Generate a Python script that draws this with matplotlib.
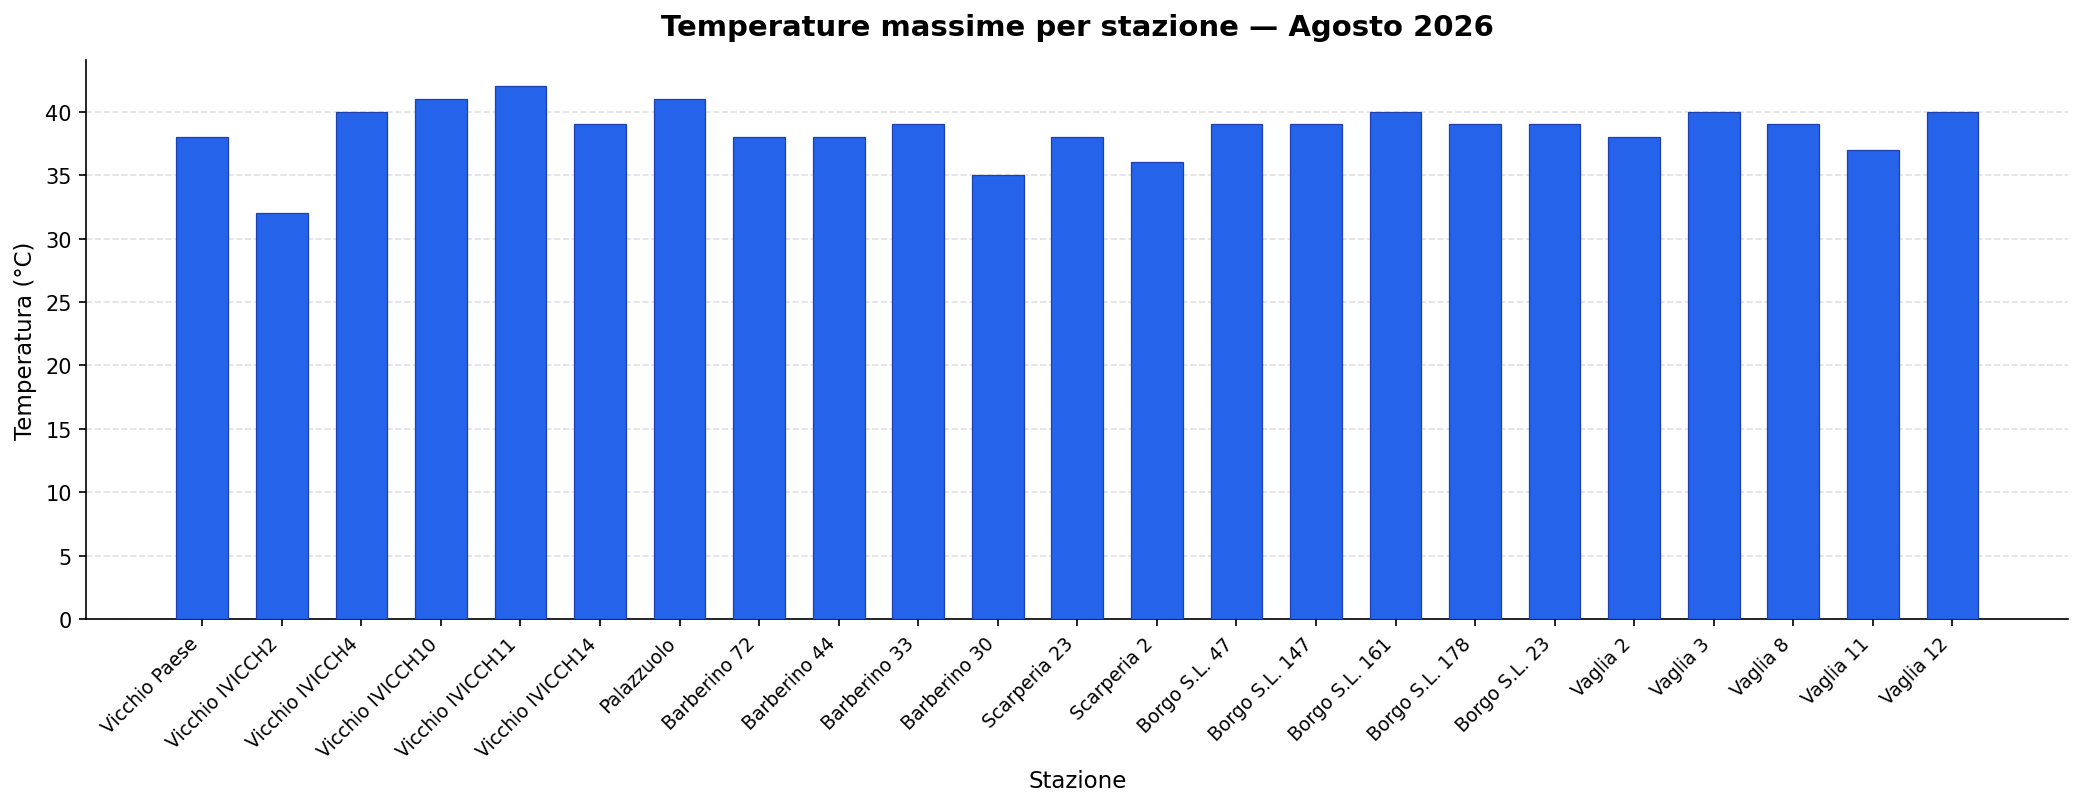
import matplotlib
matplotlib.use("Agg")
import matplotlib.pyplot as plt

stations = ["Vicchio Paese", "Vicchio IVICCH2", "Vicchio IVICCH4", "Vicchio IVICCH10",
            "Vicchio IVICCH11", "Vicchio IVICCH14", "Palazzuolo", "Barberino 72",
            "Barberino 44", "Barberino 33", "Barberino 30", "Scarperia 23", "Scarperia 2",
            "Borgo S.L. 47", "Borgo S.L. 147", "Borgo S.L. 161", "Borgo S.L. 178",
            "Borgo S.L. 23", "Vaglia 2", "Vaglia 3", "Vaglia 8", "Vaglia 11", "Vaglia 12"]
tmax = [38, 32, 40, 41, 42, 39, 41, 38, 38, 39, 35, 38, 36, 39, 39, 40, 39, 39, 38, 40, 39, 37, 40]

fig = plt.figure(figsize=(13.9, 5.3933), dpi=150)
ax = fig.add_axes([0.0414, 0.2336, 0.9506, 0.6914])
x = list(range(len(stations)))
ax.bar(x, tmax, width=0.65, color="#2563eb", edgecolor="#1e40af", linewidth=0.6, zorder=3)
ax.set_xticks(x)
ax.set_xticklabels(stations, rotation=45, ha="right", fontsize=9)
ax.tick_params(axis="y", labelsize=10)
ax.grid(axis="y", linestyle="--", color="#cccccc", alpha=0.6, zorder=0)
ax.spines["top"].set_visible(False)
ax.spines["right"].set_visible(False)
ax.set_xlabel("Stazione", fontsize=11)
ax.set_ylabel("Temperatura (°C)", fontsize=11)
ax.set_title("Temperature massime per stazione — Agosto 2026", fontsize=14, fontweight="bold", pad=12)
fig.savefig("out.png", dpi=150)
